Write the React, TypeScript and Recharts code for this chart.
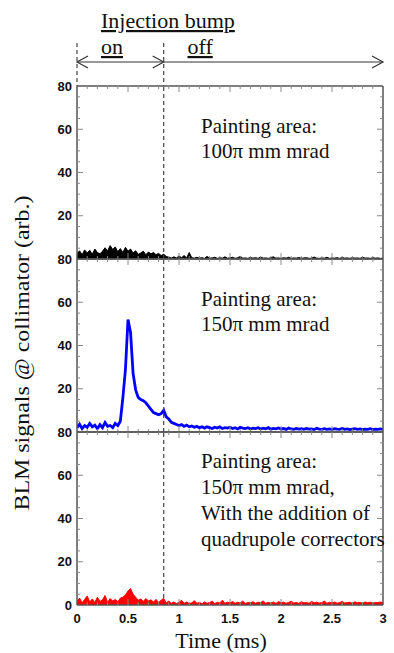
import React from 'react';
import { ComposedChart, Area, Line, XAxis, YAxis, ReferenceLine } from 'recharts';

// ---------- data ----------
const times = [
  0, 0.025, 0.05, 0.075, 0.1, 0.125, 0.15, 0.175, 0.2, 0.225,
  0.25, 0.275, 0.3, 0.325, 0.35, 0.375, 0.4, 0.425, 0.45, 0.475,
  0.5, 0.525, 0.55, 0.575, 0.6, 0.625, 0.65, 0.675, 0.7, 0.725,
  0.75, 0.775, 0.8, 0.825, 0.85, 0.875, 0.9, 0.925, 0.95, 0.975,
  1, 1.025, 1.05, 1.075, 1.1, 1.125, 1.15, 1.175, 1.2, 1.225,
  1.25, 1.275, 1.3, 1.325, 1.35, 1.375, 1.4, 1.425, 1.45, 1.475,
  1.5, 1.525, 1.55, 1.575, 1.6, 1.625, 1.65, 1.675, 1.7, 1.725,
  1.75, 1.775, 1.8, 1.825, 1.85, 1.875, 1.9, 1.925, 1.95, 1.975,
  2, 2.025, 2.05, 2.075, 2.1, 2.125, 2.15, 2.175, 2.2, 2.225,
  2.25, 2.275, 2.3, 2.325, 2.35, 2.375, 2.4, 2.425, 2.45, 2.475,
  2.5, 2.525, 2.55, 2.575, 2.6, 2.625, 2.65, 2.675, 2.7, 2.725,
  2.75, 2.775, 2.8, 2.825, 2.85, 2.875, 2.9, 2.925, 2.95, 2.975,
  3,
];

// Painting area 100π mm mrad (black)
const blmArea100 = [
  2.5, 3.8, 2.0, 4.2, 2.8, 4.0, 2.2, 4.6, 3.0, 2.4,
  3.6, 5.2, 3.8, 6.2, 4.4, 5.6, 3.4, 4.8, 3.0, 5.4,
  3.6, 4.6, 2.8, 3.8, 2.2, 2.8, 3.6, 2.0, 3.2, 2.4,
  3.0, 2.0, 2.6, 1.6, 2.2, 1.2, 0.8, 0.5, 1.0, 0.5,
  1.4, 0.6, 1.6, 0.5, 3.0, 0.6, 0.4, 0.8, 0.4, 0.6,
  0.3, 1.2, 0.4, 0.5, 0.8, 0.3, 0.6, 0.4, 1.0, 0.4,
  0.5, 0.8, 0.3, 0.6, 1.2, 0.4, 0.5, 0.3, 0.7, 0.4,
  0.6, 0.3, 0.9, 0.4, 0.5, 0.3, 0.6, 1.0, 0.4, 0.5,
  0.3, 0.6, 0.4, 0.8, 0.3, 0.5, 0.4, 0.7, 0.3, 0.5,
  0.6, 0.3, 0.4, 0.9, 0.4, 0.3, 0.5, 0.4, 0.8, 0.3,
  0.5, 0.4, 0.6, 0.3, 0.7, 0.4, 0.5, 0.3, 0.6, 0.4,
  0.5, 0.3, 0.8, 0.4, 0.5, 0.3, 0.6, 0.4, 0.5, 0.3,
  0.4,
];

// Painting area 150π mm mrad (blue)
const blmArea150 = [
  2.0, 3.6, 1.6, 3.0, 2.2, 4.0, 2.4, 3.2, 1.6, 3.4,
  2.0, 4.4, 2.6, 3.0, 2.0, 4.0, 3.0, 5.0, 16, 29,
  52, 46, 27, 19.5, 16, 15, 14.5, 13.5, 12, 10.5,
  9, 8.5, 8, 8.5, 10, 7, 6, 4.5, 4, 3.5,
  3, 3.4, 2.6, 3.2, 2.4, 2.8, 2.2, 2.6, 2.0, 2.4,
  1.8, 2.4, 2.0, 1.6, 2.2, 1.8, 2.4, 1.6, 2.0, 1.8,
  2.2, 1.6, 2.0, 1.4, 2.2, 1.8, 1.6, 2.0, 1.4, 1.8,
  1.6, 2.0, 1.4, 1.8, 1.5, 2.0, 1.3, 1.7, 1.5, 1.9,
  1.4, 1.6, 1.2, 1.8, 1.4, 1.2, 1.6, 1.3, 1.5, 1.2,
  1.6, 1.3, 1.4, 1.1, 1.7, 1.3, 1.2, 1.5, 1.2, 1.4,
  1.1, 1.5, 1.3, 1.2, 1.6, 1.2, 1.4, 1.1, 1.3, 1.5,
  1.2, 1.4, 1.1, 1.3, 1.2, 1.5, 1.1, 1.3, 1.2, 1.4,
  1.2,
];

// Painting area 150π mm mrad + quadrupole correctors (red)
const blmArea150Quad = [
  1.5, 3.2, 1.0, 2.6, 4.2, 1.4, 2.8, 1.2, 3.6, 1.6,
  2.4, 4.4, 1.2, 3.0, 1.8, 2.6, 1.4, 3.2, 3.6, 4.6,
  6.5, 7.6, 5.0, 3.6, 2.2, 2.8, 1.6, 3.0, 1.8, 2.4,
  1.4, 2.6, 1.2, 2.2, 3.0, 1.0, 1.8, 0.8, 1.4, 0.7,
  1.2, 2.2, 0.8, 1.4, 0.7, 1.0, 2.0, 0.8, 1.2, 0.6,
  1.4, 0.8, 1.1, 1.8, 0.7, 1.2, 0.9, 2.2, 0.8, 1.3,
  1.0, 1.6, 0.8, 1.3, 0.9, 1.8, 0.7, 1.2, 1.0, 1.5,
  0.8, 1.3, 1.0, 1.9, 0.8, 1.2, 0.9, 1.4, 0.7, 1.6,
  1.0, 1.3, 0.8, 1.2, 1.7, 0.9, 1.1, 0.8, 1.5, 1.0,
  1.2, 0.8, 1.6, 1.0, 1.3, 0.9, 1.1, 1.8, 0.8, 1.2,
  1.0, 1.4, 0.8, 1.2, 1.6, 0.9, 1.1, 1.3, 0.8, 1.5,
  1.0, 1.2, 0.8, 1.4, 1.0, 1.3, 0.9, 1.2, 1.1, 1.4,
  1.0,
];

const xTicks = [
  0, 0.1, 0.2, 0.3, 0.4, 0.5, 0.6, 0.7, 0.8, 0.9, 1,
  1.1, 1.2, 1.3, 1.4, 1.5, 1.6, 1.7, 1.8, 1.9, 2,
  2.1, 2.2, 2.3, 2.4, 2.5, 2.6, 2.7, 2.8, 2.9, 3,
];
const xLabelTicks = [0, 0.5, 1, 1.5, 2, 2.5, 3];
const yTicks = [0, 5, 10, 15, 20, 25, 30, 35, 40, 45, 50, 55, 60, 65, 70, 75, 80];
const yLabelTicksUpper = [20, 40, 60, 80];
const yLabelTicksBottom = [0, 20, 40, 60, 80];
const yMajorTicks = [0, 20, 40, 60, 80];
const bumpOffTime = 0.85;

const panelNotes = [
  ['Painting area:', '100\u03c0 mm mrad'],
  ['Painting area:', '150\u03c0 mm mrad'],
  ['Painting area:', '150\u03c0 mm mrad,', 'With the addition of', 'quadrupole correctors'],
];

// ---------- layout / style ----------
const W = 394;
const H = 653;
const PLOT_LEFT = 77;
const PLOT_RIGHT = 383;
const PANEL_TOP = 86;
const PANEL_H = 173;
const PAD = 10;
const AXIS = '#555';
const TICK = '#8a8a8a';
const SERIF = '"Liberation Serif", "Times New Roman", Times, serif';
const SANS = '"Liberation Sans", Arial, Helvetica, sans-serif';

const tToPx = (t: number) => PLOT_LEFT + (t / 3) * (PLOT_RIGHT - PLOT_LEFT);
const isXEnd = (v: number) => v === 0 || v === 3;
const isYEnd = (v: number) => v === 0 || v === 80;

const XBottomTick = (props: any) => {
  const { x, y, payload, showLabel } = props;
  const v = payload.value;
  const major = xLabelTicks.includes(v);
  return (
    <g>
      {isXEnd(v) ? null : (
        <line x1={x} x2={x} y1={y} y2={y - (major ? 6 : 3)} stroke={TICK} strokeWidth={1} />
      )}
      {showLabel && major ? (
        <text x={x} y={y + 18} textAnchor="middle" fontFamily={SANS} fontWeight="bold" fontSize={13} fill="#111">
          {String(v)}
        </text>
      ) : null}
    </g>
  );
};

const XTopTick = (props: any) => {
  const { x, y, payload } = props;
  const v = payload.value;
  if (isXEnd(v)) return <g />;
  const major = xLabelTicks.includes(v);
  return <line x1={x} x2={x} y1={y} y2={y + (major ? 6 : 3)} stroke={TICK} strokeWidth={1} />;
};

const YLeftTick = (props: any) => {
  const { x, y, payload, labels } = props;
  const v = payload.value;
  const major = yMajorTicks.includes(v);
  return (
    <g>
      {isYEnd(v) ? null : (
        <line x1={x} x2={x + (major ? 6 : 3)} y1={y} y2={y} stroke={TICK} strokeWidth={1} />
      )}
      {labels.includes(v) ? (
        <text x={x - 5} y={y} dy="0.36em" textAnchor="end" fontFamily={SANS} fontWeight="bold" fontSize={13} fill="#111">
          {String(v)}
        </text>
      ) : null}
    </g>
  );
};

const YRightTick = (props: any) => {
  const { x, y, payload } = props;
  const v = payload.value;
  if (isYEnd(v)) return <g />;
  const major = yMajorTicks.includes(v);
  return <line x1={x} x2={x - (major ? 6 : 3)} y1={y} y2={y} stroke={TICK} strokeWidth={1} />;
};

type PanelProps = {
  index: number;
  values: number[];
  color: string;
  kind: 'area' | 'line';
  showXLabels: boolean;
  yLabels: number[];
};

const Panel = ({ index, values, color, kind, showXLabels, yLabels }: PanelProps) => {
  const data = times.map((t, i) => ({ t, v: values[i] }));
  const bottomPad = showXLabels ? 30 : PAD;
  return (
    <div style={{ position: 'absolute', left: 0, top: PANEL_TOP + index * PANEL_H - PAD }}>
      <ComposedChart
        width={W}
        height={PANEL_H + PAD + bottomPad}
        data={data}
        margin={{ top: PAD - 1, right: W - PLOT_RIGHT - 1, bottom: bottomPad - 1, left: 0 }}
      >
        <XAxis xAxisId="b" dataKey="t" type="number" domain={[0, 3]} ticks={xTicks} interval={0} height={1} tickSize={0} tickMargin={0} tickLine={false} allowDataOverflow axisLine={{ stroke: AXIS, strokeWidth: 1.5 }} tick={(p: any) => <XBottomTick {...p} showLabel={showXLabels} />} />
        <XAxis xAxisId="t" dataKey="t" orientation="top" type="number" domain={[0, 3]} ticks={xTicks} interval={0} height={1} tickSize={0} tickMargin={0} tickLine={false} allowDataOverflow axisLine={{ stroke: AXIS, strokeWidth: 1.5 }} tick={(p: any) => <XTopTick {...p} />} />
        <YAxis yAxisId="l" type="number" domain={[0, 80]} ticks={yTicks} interval={0} width={PLOT_LEFT} tickSize={0} tickMargin={0} tickLine={false} allowDataOverflow axisLine={{ stroke: AXIS, strokeWidth: 1.5 }} tick={(p: any) => <YLeftTick {...p} labels={yLabels} />} />
        <YAxis yAxisId="r" orientation="right" type="number" domain={[0, 80]} ticks={yTicks} interval={0} width={1} tickSize={0} tickMargin={0} tickLine={false} allowDataOverflow axisLine={{ stroke: AXIS, strokeWidth: 1.5 }} tick={(p: any) => <YRightTick {...p} />} />
        {kind === 'area' ? (
          <Area xAxisId="b" yAxisId="l" dataKey="v" type="linear" stroke={color} strokeWidth={1} fill={color} fillOpacity={1} baseValue={0} dot={false} activeDot={false} isAnimationActive={false} />
        ) : (
          <Line xAxisId="b" yAxisId="l" dataKey="v" type="linear" stroke={color} strokeWidth={2.8} dot={false} activeDot={false} isAnimationActive={false} />
        )}
        <ReferenceLine xAxisId="b" yAxisId="l" x={bumpOffTime} stroke="#444" strokeWidth={1.2} strokeDasharray="4 3" />
      </ComposedChart>
    </div>
  );
};

const noteTops = [133, 306, 468];
const noteSpacing = [25, 25, 26];

export default function App() {
  const offX = tToPx(bumpOffTime);
  const x0 = tToPx(0);
  const x3 = tToPx(3);
  const arrowY = 62;
  return (
    <div style={{ position: 'absolute', left: 0, top: 0, width: W, height: H, background: '#fff' }}>
      <Panel index={0} values={blmArea100} color="#000000" kind="area" showXLabels={false} yLabels={yLabelTicksUpper} />
      <Panel index={1} values={blmArea150} color="#0000ff" kind="line" showXLabels={false} yLabels={yLabelTicksUpper} />
      <Panel index={2} values={blmArea150Quad} color="#ff0000" kind="area" showXLabels={true} yLabels={yLabelTicksBottom} />
      <svg width={W} height={H} style={{ position: 'absolute', left: 0, top: 0, pointerEvents: 'none' }}>
        <text x={101} y={28} fontFamily={SERIF} fontSize={22} fill="#111" style={{ textDecoration: 'underline' }}>Injection bump</text>
        <text x={101} y={54} fontFamily={SERIF} fontSize={22} fill="#111" style={{ textDecoration: 'underline' }}>on</text>
        <text x={187.5} y={54} fontFamily={SERIF} fontSize={22} fill="#111" style={{ textDecoration: 'underline' }}>off</text>
        <line x1={x0} x2={x0} y1={43} y2={PANEL_TOP} stroke="#444" strokeWidth={1.2} strokeDasharray="4 3" />
        <line x1={offX} x2={offX} y1={43} y2={PANEL_TOP} stroke="#444" strokeWidth={1.2} strokeDasharray="4 3" />
        <line x1={x0} x2={x3} y1={arrowY} y2={arrowY} stroke="#333" strokeWidth={1.2} />
        <polyline points={`${x0 + 11},${arrowY - 6} ${x0},${arrowY} ${x0 + 11},${arrowY + 6}`} fill="none" stroke="#333" strokeWidth={1.2} />
        <polyline points={`${offX - 11},${arrowY - 6} ${offX},${arrowY} ${offX - 11},${arrowY + 6}`} fill="none" stroke="#333" strokeWidth={1.2} />
        <polyline points={`${x3 - 11},${arrowY - 6} ${x3},${arrowY} ${x3 - 11},${arrowY + 6}`} fill="none" stroke="#333" strokeWidth={1.2} />
        {panelNotes.map((lines, pi) =>
          lines.map((ln, li) => (
            <text key={`${pi}-${li}`} x={201} y={noteTops[pi] + li * noteSpacing[pi]} fontFamily={SERIF} fontSize={21} fill="#111">{ln}</text>
          ))
        )}
        <text transform="translate(29,353) rotate(-90)" textAnchor="middle" fontFamily={SERIF} fontSize={22} fill="#111" textLength={315} lengthAdjust="spacingAndGlyphs">BLM signals @ collimator (arb.)</text>
        <text x={221} y={648} textAnchor="middle" fontFamily={SERIF} fontSize={22} fill="#111">Time (ms)</text>
      </svg>
    </div>
  );
}
